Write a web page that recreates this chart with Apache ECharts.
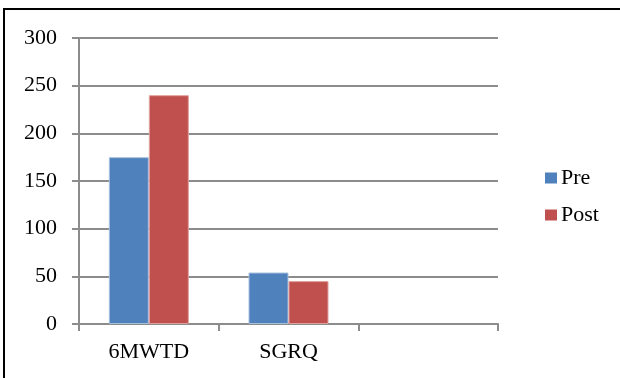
<!DOCTYPE html>
<html><head><meta charset="utf-8">
<script src="https://cdn.jsdelivr.net/npm/echarts@6/dist/echarts.min.js"></script>
<style>html,body{margin:0;padding:0;background:#fff}#c{width:620px;height:378px}</style>
</head><body><div id="c"></div>
<script>
const categories = ['6MWTD', 'SGRQ', ''];
const preValues = [175, 54, null];
const postValues = [240, 45, null];
const seriesNames = ['Pre', 'Post'];
const chart = echarts.init(document.getElementById('c'), null, {renderer: 'canvas'});
const font = '"Liberation Serif", "Times New Roman", "DejaVu Serif", serif';
chart.setOption({
  animation: false,
  backgroundColor: '#fff',
  textStyle: {fontFamily: font},
  graphic: [{
    type: 'polyline', silent: true,
    shape: {points: [[4, 400], [4, 9], [640, 9]]},
    style: {stroke: '#000', lineWidth: 2, fill: null}
  }],
  grid: {left: 79, right: 122, top: 38, bottom: 54, containLabel: false},
  legend: {
    orient: 'vertical', left: 540, top: 162, itemGap: 15,
    itemWidth: 12, itemHeight: 11, icon: 'rect',
    itemStyle: {borderWidth: 0},
    textStyle: {fontFamily: font, fontSize: 22, color: '#000', padding: [0, 0, 0, -1]},
    data: seriesNames
  },
  xAxis: {
    type: 'category', data: categories,
    axisLine: {lineStyle: {color: '#8c8c8c', width: 2}},
    axisTick: {show: true, length: 7, alignWithLabel: false, lineStyle: {color: '#8c8c8c', width: 2}},
    axisLabel: {fontFamily: font, fontSize: 22, color: '#000', margin: 17}
  },
  yAxis: {
    type: 'value', min: 0, max: 300, interval: 50,
    axisLine: {show: true, lineStyle: {color: '#8c8c8c', width: 2}},
    axisTick: {show: true, length: 7, lineStyle: {color: '#8c8c8c', width: 2}},
    splitLine: {lineStyle: {color: '#8c8c8c', width: 2}},
    axisLabel: {fontFamily: font, fontSize: 22, color: '#000', margin: 22}
  },
  series: [
    {name: seriesNames[0], type: 'bar', data: preValues, barWidth: 40, barGap: '0%',
     itemStyle: {color: '#4f81bd', borderColor: '#a7c0de', borderWidth: 1}},
    {name: seriesNames[1], type: 'bar', data: postValues, barWidth: 40,
     itemStyle: {color: '#c0504d', borderColor: '#e0a09e', borderWidth: 1}}
  ]
});
</script></body></html>
